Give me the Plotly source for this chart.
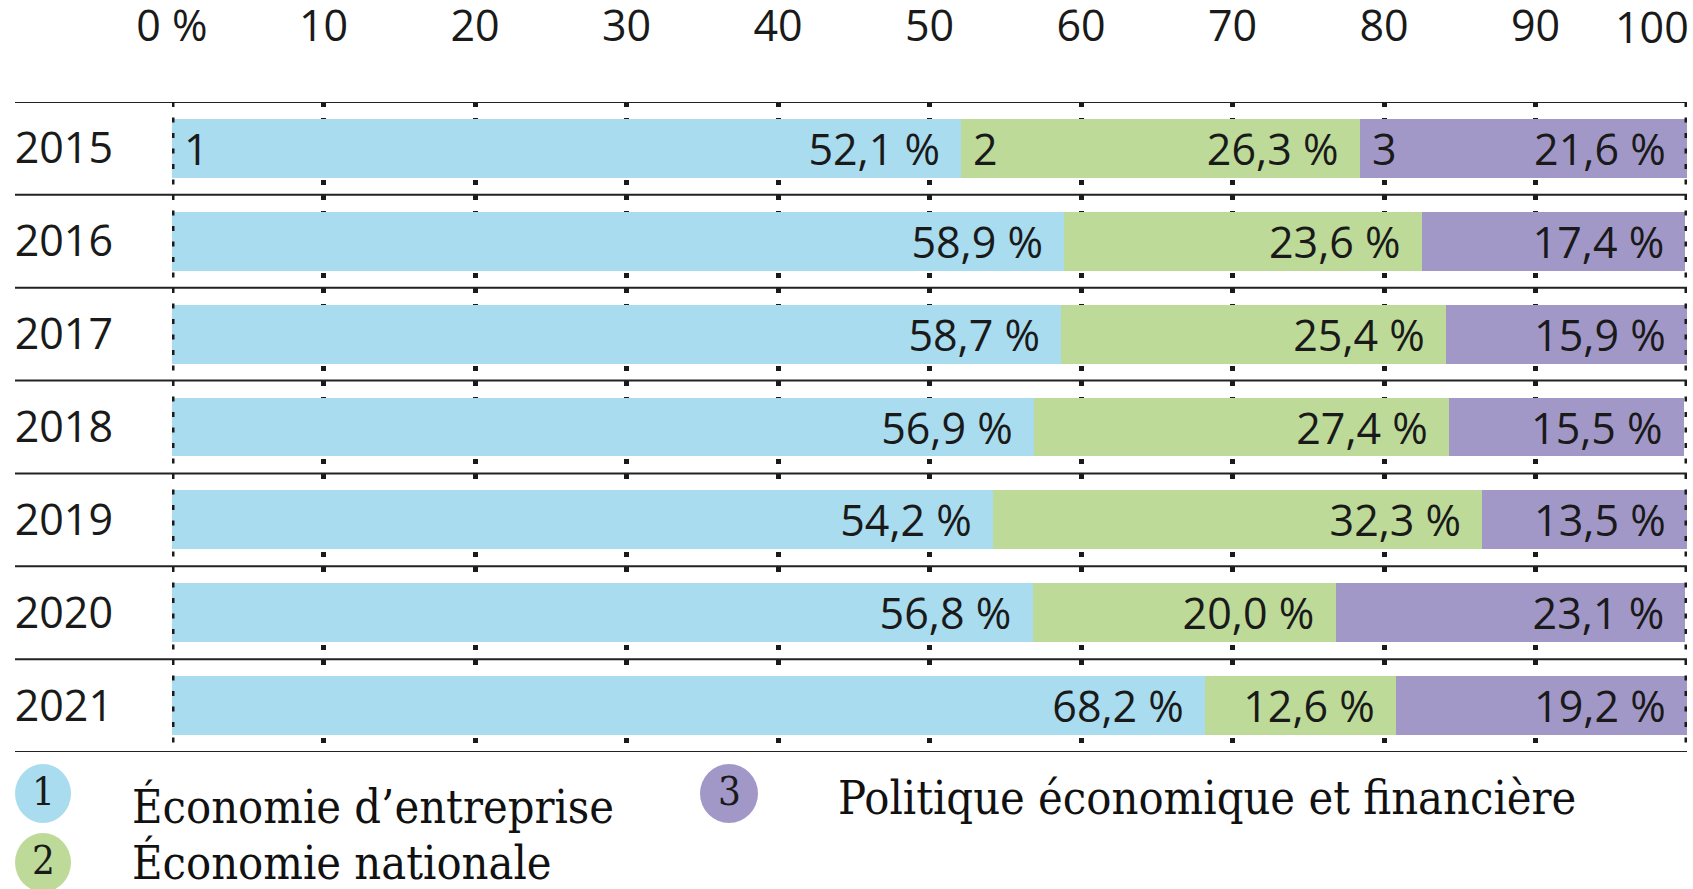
import plotly.graph_objects as go

# ---- data ----
years = ["2015", "2016", "2017", "2018", "2019", "2020", "2021"]
entreprise = [52.1, 58.9, 58.7, 56.9, 54.2, 56.8, 68.2]
nationale = [26.3, 23.6, 25.4, 27.4, 32.3, 20.0, 12.6]
politique = [21.6, 17.4, 15.9, 15.5, 13.5, 23.1, 19.2]
series_values = [entreprise, nationale, politique]
series_names = ["Économie d’entreprise", "Économie nationale", "Politique économique et financière"]
series_numbers = ["1", "2", "3"]
tick_vals = [0, 10, 20, 30, 40, 50, 60, 70, 80, 90, 100]
tick_text = ["0\u00a0%", "10", "20", "30", "40", "50", "60", "70", "80", "90", "100"]

# ---- style ----
colors = ["#a9dcee", "#bdda99", "#a298c8"]
W, H = 1693, 889
# plot area in screen pixels
PX0, PX1, PY0, PY1 = 172, 1687, 102, 752
L, T = PX0, PY0
R, B = W - PX1, H - PY1
PW, PH = PX1 - PX0, PY1 - PY0
SANS = "Open Sans"
SERIF = "DejaVu Serif Condensed, DejaVu Serif"
INK = "#1a1a1a"
FS = 43
DOT = "5px,10.5px"

rows = list(range(len(years)))  # row index of each year (0 = top)


def px2x(px):  # screen px -> paper x
    return (px - PX0) / PW


def py2y(py):  # screen px -> paper y
    return (PY1 - py) / PH


def fmt(v):
    return f"{v:.1f}".replace(".", ",") + "\u00a0%\u00a0\u2009"


fig = go.Figure()
for name, vals, col in zip(series_names, series_values, colors):
    fig.add_trace(go.Bar(
        y=rows, x=vals, orientation="h", name=name,
        marker=dict(color=col, line=dict(width=0)),
        text=[fmt(v) for v in vals],
        textposition="inside", insidetextanchor="end",
        constraintext="none", textangle=0,
        textfont=dict(family=SANS, size=FS, color=INK),
        showlegend=False, hoverinfo="skip",
    ))

shapes = []
# horizontal row separators
for i in range(len(years) + 1):
    shapes.append(dict(type="line", xref="paper", yref="y",
                       x0=px2x(15), x1=1, y0=i - 0.5, y1=i - 0.5,
                       line=dict(color="#222222", width=2), layer="above"))
# dotted edge lines at 0 and 100 (above bars)
for v in (tick_vals[0], tick_vals[-1]):
    shapes.append(dict(type="line", xref="x", yref="paper",
                       x0=v, x1=v, y0=1, y1=0,
                       line=dict(color=INK, width=5, dash=DOT), layer="above"))

annotations = []
# last top tick label, kept inside the page (right-aligned on its tick)
annotations.append(dict(x=tick_vals[-1], y=py2y(27), xref="x", yref="paper",
                        text=tick_text[-1], showarrow=False, xanchor="right",
                        yanchor="middle", xshift=4,
                        font=dict(family=SANS, size=FS, color=INK)))
# segment numbers in first row
start = 0
for num, vals in zip(series_numbers, series_values):
    annotations.append(dict(x=start, y=rows[0], xref="x", yref="y", text=num,
                            showarrow=False, xanchor="left", xshift=10,
                            font=dict(family=SANS, size=FS, color=INK)))
    start += vals[0]

# custom legend (screen px)
legend_pos = [  # circle box (x0,x1,y0,y1), text x, text y(middle)
    ((15, 71, 764, 823), 130, 806),
    ((15, 71, 833, 892), 130, 862),
    ((700, 758, 764, 823), 836, 798),
]
for (box, tx, ty), num, name, col in zip(legend_pos, series_numbers, series_names, colors):
    x0, x1, y0, y1 = box
    shapes.append(dict(type="circle", xref="paper", yref="paper",
                       x0=px2x(x0), x1=px2x(x1), y0=py2y(y1), y1=py2y(y0),
                       fillcolor=col, line=dict(width=0), layer="above"))
    annotations.append(dict(x=px2x((x0 + x1) / 2), y=py2y((y0 + y1) / 2 - 3),
                            xref="paper", yref="paper", text=num, showarrow=False,
                            xanchor="center", yanchor="middle",
                            font=dict(family=SERIF, size=40, color=INK)))
    annotations.append(dict(x=px2x(tx), y=py2y(ty), xref="paper", yref="paper",
                            text=name, showarrow=False, xanchor="left", yanchor="middle",
                            font=dict(family=SERIF, size=46.5, color="#111111")))

fig.update_layout(
    width=W, height=H,
    margin=dict(l=L, r=R, t=T, b=B, autoexpand=False),
    paper_bgcolor="white", plot_bgcolor="white",
    barmode="stack", bargap=0.365,
    shapes=shapes, annotations=annotations,
    xaxis=dict(side="top", range=[0, 100], tickvals=tick_vals[:-1], ticktext=tick_text[:-1],
               showgrid=True, gridcolor=INK, gridwidth=5, griddash=DOT,
               zeroline=False, showline=False, ticks="",
               ticklabelstandoff=51,
               tickfont=dict(family=SANS, size=FS, color=INK), fixedrange=True),
    yaxis=dict(type="linear", range=[len(years) - 0.5, -0.5],
               tickvals=rows, ticktext=years,
               showgrid=False, zeroline=False, showline=False, ticks="",
               ticklabelstandoff=58,
               tickfont=dict(family=SANS, size=FS, color=INK), fixedrange=True),
)

fig.write_html(
    "out.html",
    config={"displayModeBar": False},
    post_script="document.body.style.margin='0';"
                "document.documentElement.style.overflow='hidden';",
)
